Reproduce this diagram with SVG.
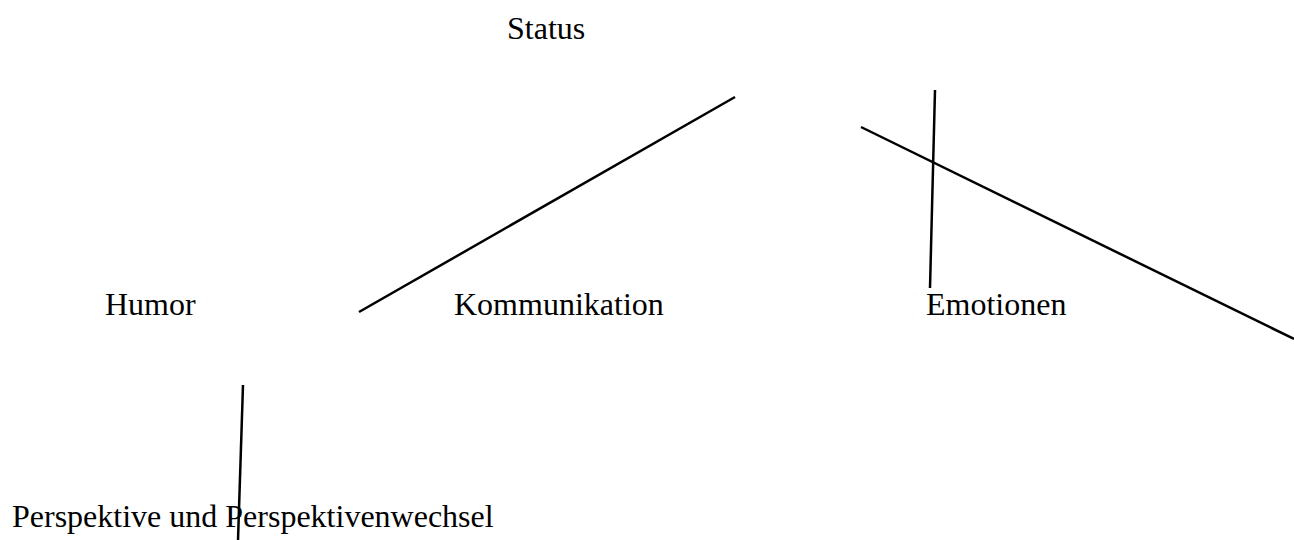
<svg xmlns="http://www.w3.org/2000/svg" width="1294" height="540" viewBox="0 0 1294 540">
<style>
.t{font-family:"Liberation Serif","Times New Roman",serif;font-size:32px;fill:#000}
.c line{stroke:#000;stroke-width:2.5;fill:none}
</style>
<rect width="1294" height="540" fill="#fff"/>
<g id="status"><text class="t" x="507" y="39">Status</text></g>
<g id="humor"><text class="t" x="105" y="315">Humor</text></g>
<g id="kommunikation"><text class="t" x="454" y="315">Kommunikation</text></g>
<g id="emotionen"><text class="t" x="926" y="315">Emotionen</text></g>
<g id="perspektive"><text class="t" x="12" y="527">Perspektive und Perspektivenwechsel</text></g>
<g class="c" id="connectors">
<line x1="735" y1="97" x2="359" y2="312"/>
<line x1="935" y1="90" x2="930" y2="288"/>
<line x1="861" y1="127" x2="1294" y2="339"/>
<line x1="243" y1="385" x2="238" y2="540"/>
</g>
</svg>
